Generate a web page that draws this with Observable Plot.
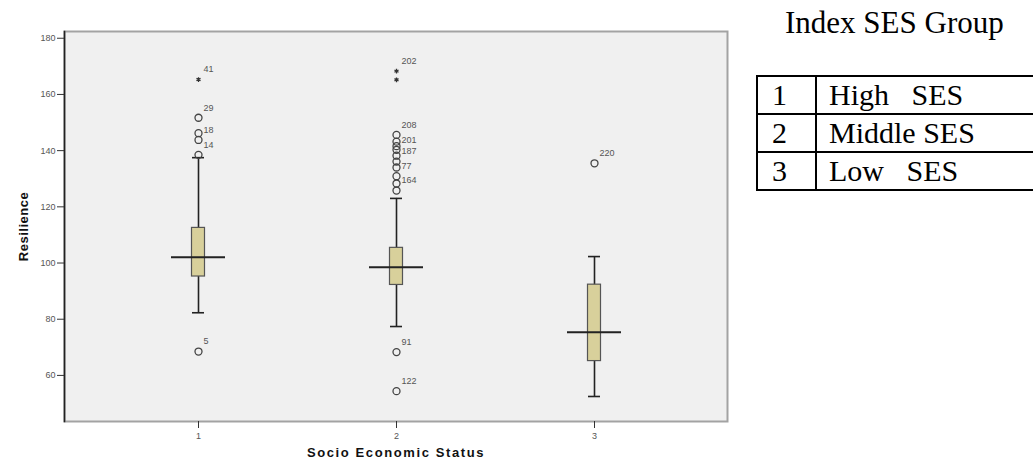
<!DOCTYPE html>
<html>
<head>
<meta charset="utf-8">
<script src="https://cdn.jsdelivr.net/npm/d3@7"></script>
<script src="https://cdn.jsdelivr.net/npm/@observablehq/plot@0.6"></script>
<style>
  html, body { margin: 0; padding: 0; background: #fff; overflow: hidden; }
  #wrap { position: relative; width: 1033px; height: 461px; overflow: hidden; }
  #chart { position: absolute; left: 0; top: 0; }
  #chart svg { font-family: Arial, "Liberation Sans", sans-serif; }
  #chart g[aria-label="y-axis label"] text { font-weight: bold; font-size: 13px; fill: #111; letter-spacing: 0.5px; }
  #chart g[aria-label="x-axis label"] text { font-weight: bold; font-size: 13px; fill: #111; letter-spacing: 1.6px; }
  #legendTitle { position: absolute; left: 785px; top: 5px; font-family: "Liberation Serif", "Times New Roman", serif; font-size: 31px; color: #000; white-space: pre; }
  #legend { position: absolute; left: 756px; top: 75px; border-collapse: collapse; font-family: "Liberation Serif", "Times New Roman", serif; font-size: 30px; color: #000; }
  #legend td { border: 2px solid #000; height: 36px; padding: 0; line-height: 36px; white-space: pre; }
  #legend td.k { width: 59px; min-width: 59px; padding-left: 14px; box-sizing: border-box; }
  #legend td.v { width: 400px; min-width: 400px; padding-left: 12px; box-sizing: border-box; }
</style>
</head>
<body>
<div id="wrap">
  <div id="chart"></div>
  <div id="legendTitle">Index SES Group</div>
  <table id="legend"></table>
</div>
<script>
// Groups (Socio Economic Status)
const groups = ["1", "2", "3"];
const groupNames = ["High   SES", "Middle SES", "Low   SES"];
// Box statistics
const whiskerLow  = [82.3, 77.4, 52.5];
const q1          = [95.2, 92.2, 65.1];
const median      = [102.1, 98.5, 75.4];
const q3          = [112.5, 105.4, 92.3];
const whiskerHigh = [137.5, 123.0, 102.3];
// Outliers (circles) and extremes (stars)
const outGroup  = ["1","1","1","1","1", "2","2","2","2","2","2","2","2","2","2","2","2", "3"];
const outValue  = [151.7,146.2,143.8,138.5,68.5, 145.6,143.2,141.6,140.3,138.2,136.1,134.0,130.9,128.3,125.8,68.3,54.4, 135.5];
const outLabel  = ["29","","18","14","5", "208","","","201","","187","","77","","164","91","122", "220"];
const extGroup  = ["1","2","2"];
const extValue  = [165.3,168.3,165.2];
const extLabel  = ["41","202",""];
const yTicks = [60, 80, 100, 120, 140, 160, 180];

const boxes = groups.map((g, i) => ({g, lo: whiskerLow[i], q1: q1[i], med: median[i], q3: q3[i], hi: whiskerHigh[i]}));
const outliers = outGroup.map((g, i) => ({g, v: outValue[i], label: outLabel[i]}));
const extremes = extGroup.map((g, i) => ({g, v: extValue[i], label: extLabel[i]}));
const labelled = outliers.concat(extremes).filter(d => d.label);

const chart = Plot.plot({
  width: 740,
  height: 461,
  marginLeft: 64,
  marginRight: 13,
  marginTop: 31,
  marginBottom: 40,
  style: {background: "transparent"},
  x: {type: "band", domain: groups, paddingInner: 0, paddingOuter: 0.166},
  y: {domain: [43.6, 182.4]},
  marks: [
    Plot.frame({fill: "#f0f0f0", stroke: "#a3a3a3", strokeWidth: 2}),
    Plot.frame({anchor: "left", stroke: "#222", strokeWidth: 1.6}),
    Plot.axisY({ticks: yTicks, tickSize: 7, tickPadding: 2, fontSize: 9, color: "#555", stroke: "#333",
      label: "Resilience", labelAnchor: "center", labelArrow: "none", labelOffset: 46}),
    Plot.axisX({tickSize: 7, tickPadding: 4, fontSize: 9, color: "#555", stroke: "#333",
      label: "Socio Economic Status", labelAnchor: "center", labelArrow: "none", labelOffset: 35}),
    Plot.ruleX(boxes, {x: "g", y1: "lo", y2: "hi", stroke: "#222", strokeWidth: 1.6}),
    Plot.tickY(boxes, {x: "g", y: "lo", stroke: "#222", strokeWidth: 1.6, insetLeft: 93, insetRight: 93}),
    Plot.tickY(boxes, {x: "g", y: "hi", stroke: "#222", strokeWidth: 1.6, insetLeft: 93, insetRight: 93}),
    Plot.barY(boxes, {x: "g", y1: "q1", y2: "q3", fill: "#d8d09b", stroke: "#555", strokeWidth: 1.2, insetLeft: 92.5, insetRight: 92.5}),
    Plot.tickY(boxes, {x: "g", y: "med", stroke: "#222", strokeWidth: 2, insetLeft: 72, insetRight: 72}),
    Plot.dot(outliers, {x: "g", y: "v", r: 3.5, stroke: "#444", strokeWidth: 1.3, fill: "none"}),
    Plot.dot(extremes, {x: "g", y: "v", r: 2.2, symbol: "asterisk", stroke: "#333", strokeWidth: 1.3}),
    Plot.text(labelled, {x: "g", y: "v", text: "label", dx: 5, dy: -10, textAnchor: "start", fontSize: 9, fill: "#555"})
  ]
});
document.getElementById("chart").appendChild(chart);

const table = d3.select("#legend");
groups.forEach((g, i) => {
  const tr = table.append("tr");
  tr.append("td").attr("class", "k").text(g);
  tr.append("td").attr("class", "v").text(groupNames[i]);
});
</script>
</body>
</html>
